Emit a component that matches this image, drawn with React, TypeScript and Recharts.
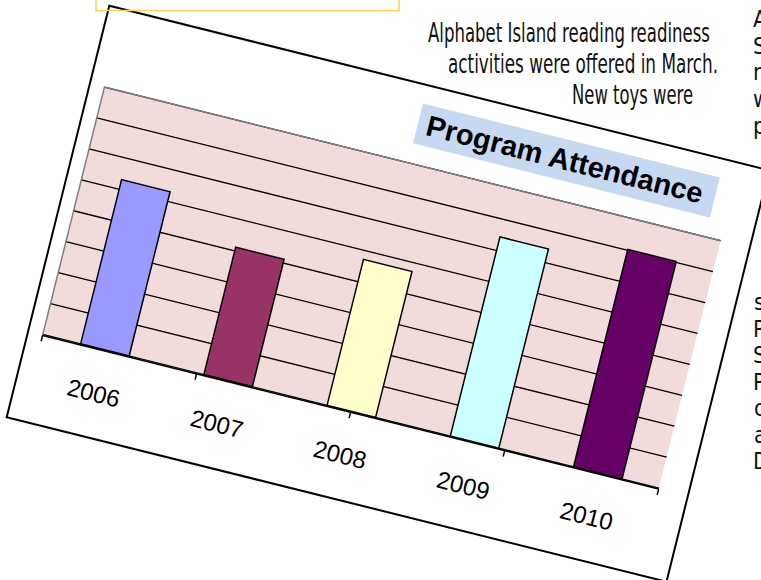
import React from "react";
import { BarChart, Bar, Cell, XAxis, YAxis, CartesianGrid, ReferenceLine } from "recharts";

const years = ["2006", "2007", "2008", "2009", "2010"];
const attendance = [5310, 4120, 4720, 6440, 7030];
const yTicks = [0, 1000, 2000, 3000, 4000, 5000, 6000, 7000];
const edgeTicks = [0, 1, 2, 3, 4, 5];

const barColors = ["#9999ff", "#993366", "#ffffcc", "#ccffff", "#660066"];

const data = years.map((year, i) => ({ year, value: attendance[i] }));

const narrow = '"Liberation Sans Narrow", "DejaVu Sans Condensed", sans-serif';
const sans = '"Liberation Sans", Arial, sans-serif';

function YearTick(props: any) {
  const { x, y, payload } = props;
  return (
    <text x={x} y={y + 53} textAnchor="middle" fontSize={24} fontFamily={sans} fill="#000">
      {payload.value}
    </text>
  );
}

export default function App() {
  return (
    <div style={{ position: "absolute", left: 0, top: 0, width: 761, height: 580, overflow: "hidden", background: "#fff" }}>
      <div
        style={{
          position: "absolute",
          left: 110,
          top: 7,
          width: 678,
          height: 422,
          transformOrigin: "0 0",
          transform: "rotate(14deg)",
          background: "#fff",
          outline: "2px solid #000",
        }}
      >
        <BarChart width={678} height={422} data={data} margin={{ top: 79, right: 29, bottom: 58, left: 14 }}>
          <CartesianGrid vertical={false} stroke="#000" strokeWidth={1.3} fill="#f2dcdb" fillOpacity={1} />
          {/* category labels sit right on the plot bottom; the boundary-tick axis stacks below it */}
          <XAxis dataKey="year" height={1} axisLine={false} tickLine={false} tickSize={0} tickMargin={0} tick={<YearTick />} />
          <XAxis
            xAxisId="edge"
            type="number"
            domain={[0, 5]}
            ticks={edgeTicks}
            allowDataOverflow
            height={29}
            tickSize={6}
            tickFormatter={() => ""}
            axisLine={{ stroke: "#000", strokeWidth: 1.5 }}
            tickLine={{ stroke: "#000", strokeWidth: 1.5 }}
          />
          <YAxis
            domain={[0, 8000]}
            ticks={yTicks}
            width={0}
            axisLine={false}
            tickLine={false}
            tickFormatter={() => ""}
          />
          <ReferenceLine y={8000} stroke="#808080" strokeWidth={1.5} />
          <ReferenceLine xAxisId="edge" x={0} stroke="#808080" strokeWidth={1.5} />
          <ReferenceLine xAxisId="edge" x={5} stroke="#808080" strokeWidth={1.5} />
          <Bar dataKey="value" barSize={50} stroke="#000" strokeWidth={1.5} isAnimationActive={false}>
            {data.map((d, i) => (
              <Cell key={d.year} fill={barColors[i]} />
            ))}
          </Bar>
        </BarChart>
        <div
          style={{
            position: "absolute",
            left: 327,
            top: 18,
            width: 306,
            height: 41,
            background: "#c6d9f1",
            fontFamily: sans,
            fontWeight: "bold",
            fontSize: 29,
            lineHeight: "41px",
            paddingLeft: 9,
            boxSizing: "border-box",
            whiteSpace: "nowrap",
          }}
        >
          Program Attendance
        </div>
      </div>
      <svg width={761} height={580} style={{ position: "absolute", left: 0, top: 0, pointerEvents: "none" }}>
        <rect x={96} y={-10} width={303} height={20.5} fill="none" stroke="#ffd54f" strokeWidth={1.5} />
        <g fontFamily={narrow} fontSize={27} fill="#111">
          <text x={428} y={42} textLength={282} lengthAdjust="spacingAndGlyphs">Alphabet Island reading readiness</text>
          <text x={448} y={73} textLength={270} lengthAdjust="spacingAndGlyphs">activities were offered in March.</text>
          <text x={572} y={104} textLength={121} lengthAdjust="spacingAndGlyphs">New toys were</text>
        </g>
        <g fontFamily={narrow} fontSize={23} fill="#111">
          <text x={753} y={27}>A</text>
          <text x={753} y={54}>S</text>
          <text x={753} y={80}>m</text>
          <text x={753} y={107}>w</text>
          <text x={753} y={134}>p</text>
          <text x={754} y={310}>s</text>
          <text x={753} y={337}>P</text>
          <text x={753} y={363}>S</text>
          <text x={753} y={390}>P</text>
          <text x={754} y={416}>o</text>
          <text x={754} y={443}>a</text>
          <text x={753} y={469}>D</text>
        </g>
      </svg>
    </div>
  );
}
